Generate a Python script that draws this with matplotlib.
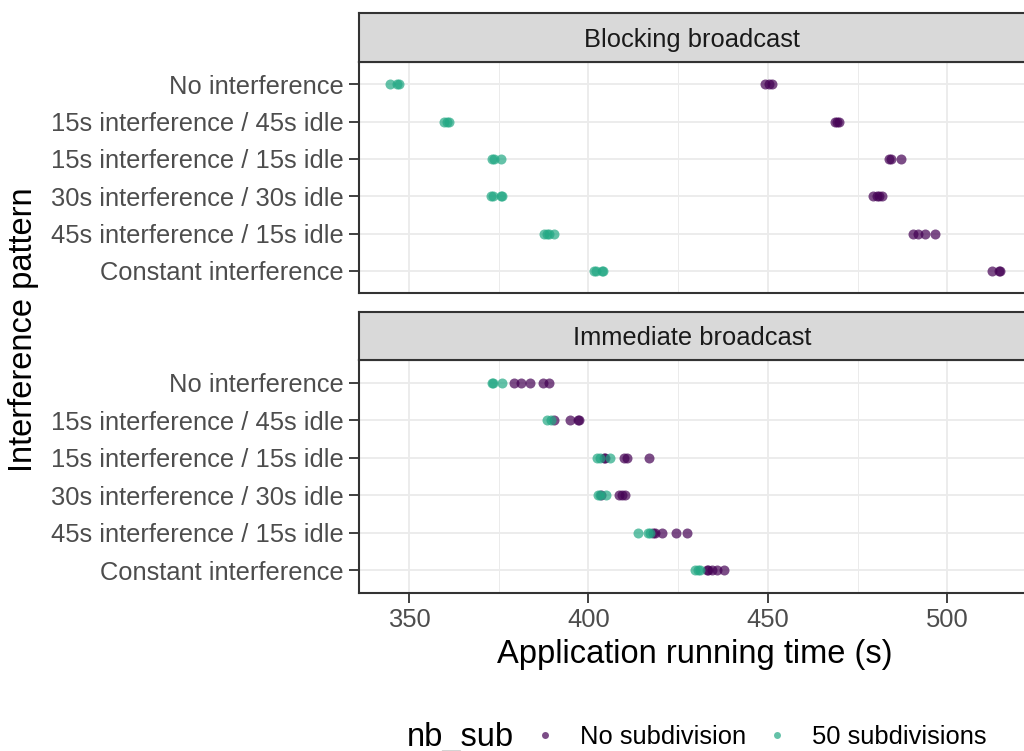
import matplotlib
matplotlib.use("Agg")
import matplotlib.pyplot as plt
from matplotlib.lines import Line2D
from matplotlib.ticker import MultipleLocator

plt.rcParams['font.family'] = ['Liberation Sans', 'DejaVu Sans']

patterns = ["No interference",
            "15s interference / 45s idle",
            "15s interference / 15s idle",
            "30s interference / 30s idle",
            "45s interference / 15s idle",
            "Constant interference"]
facets = ["Blocking broadcast", "Immediate broadcast"]
groups = ["No subdivision", "50 subdivisions"]
colors = ["#440154", "#22A884"]

# running times (s), one list per pattern, in the order of `patterns`
blocking_nosub = [[449.3, 450.3, 451.0],
                  [468.8, 469.3, 469.8],
                  [483.6, 484.4, 487.0],
                  [479.2, 480.3, 481.0, 481.9],
                  [490.5, 491.9, 493.8, 496.6],
                  [512.4, 514.3, 514.6]]
blocking_50 = [[344.6, 346.6, 347.2],
               [359.8, 360.5, 361.2],
               [373.2, 373.6, 375.6],
               [372.9, 373.5, 375.6, 376.0],
               [387.5, 388.3, 389.0, 390.3],
               [401.4, 402.0, 403.7, 404.0]]
immediate_nosub = [[379.2, 381.1, 383.8, 387.2, 389.1],
                   [390.3, 394.8, 397.1, 397.4],
                   [404.3, 404.7, 409.8, 410.7, 416.8],
                   [403.5, 408.4, 409.3, 410.2],
                   [418.0, 418.4, 420.4, 424.4, 427.4],
                   [433.0, 433.4, 434.4, 435.9, 437.8]]
immediate_50 = [[373.0, 373.4, 376.0],
                [388.4, 389.5],
                [402.3, 403.3, 406.0],
                [402.6, 403.2, 404.8],
                [413.7, 416.5, 417.2],
                [429.8, 430.4, 431.1]]

data = {facets[0]: [blocking_nosub, blocking_50],
        facets[1]: [immediate_nosub, immediate_50]}

W, H = 1024, 751
fig = plt.figure(figsize=(W / 100, H / 100), dpi=100)

border = "#333333"
left = 358.8 / W
width = (1026 - 358.8) / W
# (strip_top, panel_top, panel_bottom) in pixels from top
boxes = [(12.5, 62, 293.3), (312, 360, 592.7)]

for k, name in enumerate(facets):
    st, pt, pb = boxes[k]
    ax = fig.add_axes([left, (H - pb) / H, width, (pb - pt) / H])
    sx = fig.add_axes([left, (H - pt) / H, width, (pt - st) / H])
    sx.set_facecolor("#D9D9D9")
    sx.set_xticks([])
    sx.set_yticks([])
    for sp in sx.spines.values():
        sp.set_color(border)
        sp.set_linewidth(1.5)
    sx.text(0.5, 0.45, name, transform=sx.transAxes, ha="center", va="center",
            fontsize=18.4, color="#1A1A1A")

    for g, vals in enumerate(data[name]):
        xs, ys = [], []
        for i, row in enumerate(vals):
            xs += row
            ys += [i] * len(row)
        ax.scatter(xs, ys, s=52, color=colors[g], alpha=0.7, linewidths=0, zorder=3)

    ax.set_xlim(336.0, 521.9)
    ax.set_ylim(5.6, -0.6)
    ax.xaxis.set_major_locator(MultipleLocator(50))
    ax.xaxis.set_minor_locator(MultipleLocator(25))
    ax.set_yticks(range(len(patterns)))
    ax.set_yticklabels(patterns)
    ax.grid(which="major", color="#EBEBEB", linewidth=1.3)
    ax.grid(which="minor", axis="x", color="#EBEBEB", linewidth=0.7)
    ax.set_axisbelow(True)
    ax.tick_params(which="major", length=7.5, width=1.3, color=border,
                   labelsize=18.4, labelcolor="#4D4D4D", pad=3.5)
    ax.tick_params(which="minor", length=0)
    for sp in ax.spines.values():
        sp.set_color(border)
        sp.set_linewidth(1.5)
    if k == 0:
        ax.tick_params(axis="x", which="major", length=0, labelbottom=False)

fig.text(694.5 / W, (H - 655) / H, "Application running time (s)",
         ha="center", va="center", fontsize=23.5)
fig.text(24 / W, (H - 330) / H, "Interference pattern", rotation=90,
         ha="center", va="center", fontsize=23.5)

fig.text(407 / W, (H - 745.7) / H, "nb_sub", ha="left", va="baseline", fontsize=23.5)
handles = [Line2D([], [], linestyle="none", marker="o", markersize=5,
                  markerfacecolor=c, markeredgewidth=0, alpha=0.7) for c in colors]
fig.legend(handles, groups, ncol=2, loc="center left",
           bbox_to_anchor=(521.8 / W, (H - 737) / H), frameon=False,
           borderpad=0, handlelength=0.8, handletextpad=0.97, columnspacing=0.82,
           fontsize=18.4)

fig.savefig("out.png", dpi=100)
